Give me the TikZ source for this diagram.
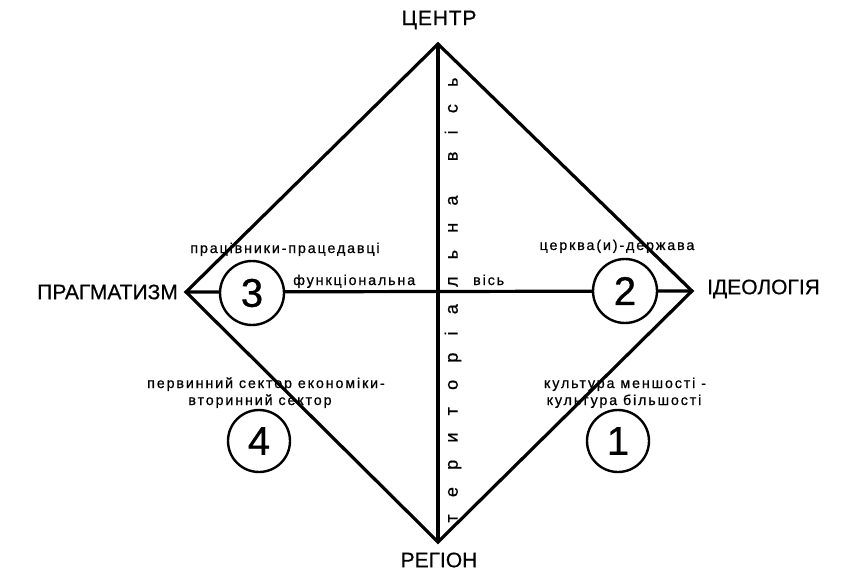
\documentclass[tikz,border=0pt]{standalone}
\usepackage{fontspec}
\setmainfont{Liberation Sans}
\begin{document}
\begin{tikzpicture}[x=1pt,y=-1pt,
  edge/.style={line width=3.2pt,line join=miter},
  numcirc/.style={circle,draw,line width=2.4pt,fill=white,minimum size=64pt,inner sep=0pt,font=\fontsize{40}{40}\selectfont\addfontfeature{FakeBold=0.8}},
  bigl/.style={font=\fontsize{21}{21}\selectfont\addfontfeature{FakeBold=0.6},inner sep=0pt},
  smalll/.style={font=\fontsize{14.3}{16}\selectfont\addfontfeature{LetterSpace=13,FakeBold=0.7},inner sep=0pt,align=center}]
\useasboundingbox (0,0) rectangle (845,577);
\coordinate (T) at (438,44);
\coordinate (B) at (438,542);
\coordinate (L) at (186,292);
\coordinate (R) at (692,291);
\draw[edge] (T) -- (R) -- (B) -- (L) -- cycle;
\draw[edge] (L) -- (R);
\draw[edge] (T) -- (B);
\node[numcirc] (c3) at (252,293) {3};
\node[numcirc] (c2) at (625,291) {2};
\node[numcirc,minimum size=62pt] (c4) at (259,441) {4};
\node[numcirc,minimum size=62pt] (c1) at (618,441) {1};
\node[bigl,font=\fontsize{21}{21}\selectfont\addfontfeature{FakeBold=0.6,LetterSpace=4}] (centr) at (439,20) {ЦЕНТР};
\node[bigl] (region) at (439,560) {РЕГІОН};
\node[bigl,anchor=east] (prag) at (178,292) {ПРАГМАТИЗМ};
\node[bigl,anchor=west] (ideo) at (707,289) {ІДЕОЛОГІЯ};
\node[smalll,anchor=base] (l3) at (285,253) {працівники-працедавці};
\node[smalll,anchor=base west] (f1) at (293,285) {функціональна};
\node[smalll,anchor=base west] (f2) at (473,285) {вісь};
\node[smalll,anchor=base] (l2) at (617,250) {церква(и)-держава};
\node[smalll,anchor=base] (l4a) at (266,388) {первинний сектор економіки-};
\node[smalll,anchor=base] (l4b) at (260,405) {вторинний сектор};
\node[smalll,anchor=base] (l1a) at (625,388) {культура меншості -};
\node[smalll,anchor=base] (l1b) at (624,405) {культура більшості};
\node[rotate=90,inner sep=0pt,font=\fontsize{18}{18}\selectfont\addfontfeature{FakeBold=0.7}] (vax) at (453,300)
  {\makebox[445pt]{т\hfill е\hfill р\hfill и\hfill т\hfill о\hfill р\hfill і\hfill а\hfill л\hfill ь\hfill н\hfill а\hfill\hfill в\hfill і\hfill с\hfill ь}};
\end{tikzpicture}
\end{document}
